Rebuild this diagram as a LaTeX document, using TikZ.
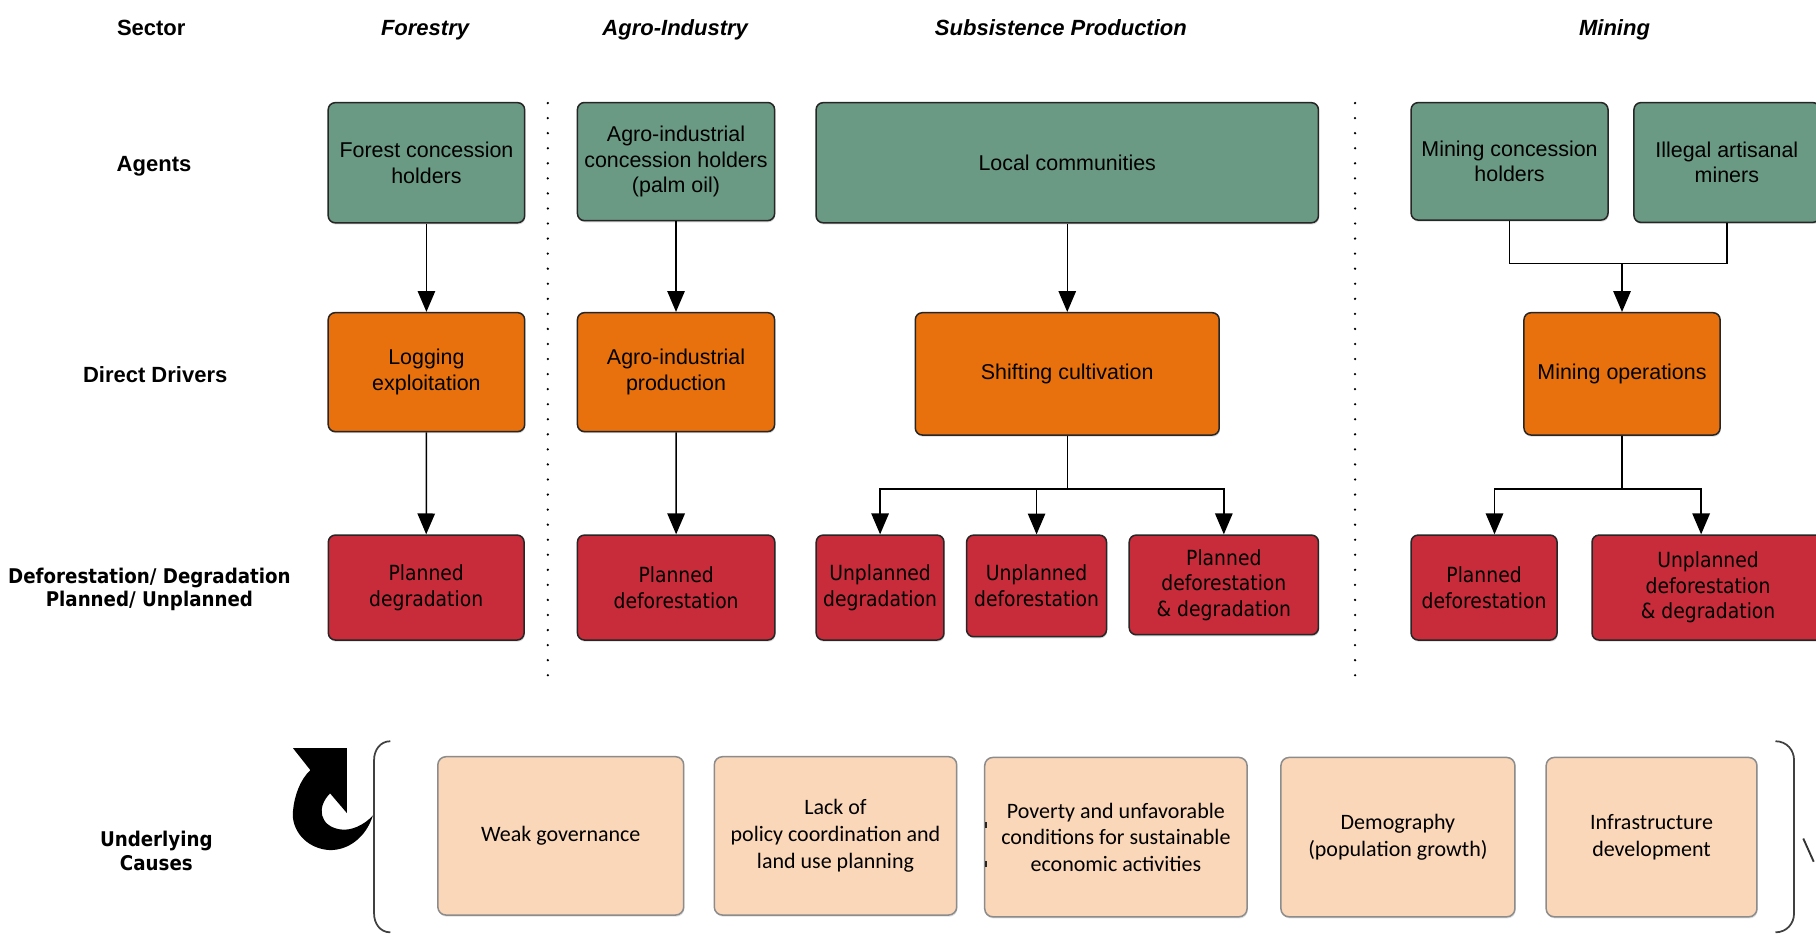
\documentclass[tikz,border=0pt]{standalone}
\usepackage{fontspec}
\setmainfont{Liberation Sans}
\newfontfamily\arialf{Liberation Sans}
\newfontfamily\dejac[FakeStretch=0.9]{DejaVu Sans}
\newfontfamily\calf{Carlito}
\usetikzlibrary{arrows.meta,shadows}
\definecolor{cgreen}{RGB}{106,154,132}
\definecolor{corange}{RGB}{232,113,14}
\definecolor{cred}{RGB}{200,43,58}
\definecolor{cpeach}{RGB}{250,215,185}
\definecolor{cpborder}{RGB}{140,140,140}
\tikzset{
  sz/.style 2 args={minimum width=#1pt, minimum height=#2pt},
  basebox/.style={draw=black!85, line width=1.3pt, rounded corners=6pt, align=center, inner sep=2pt,
    drop shadow={shadow xshift=0.6pt, shadow yshift=-1.4pt, opacity=0.3}},
  gbox/.style={basebox, fill=cgreen, font=\arialf\fontsize{18.5}{22}\selectfont},
  obox/.style={basebox, fill=corange, font=\arialf\fontsize{18.5}{22}\selectfont},
  rbox/.style={basebox, fill=cred, font=\dejac\fontsize{18}{22}\selectfont},
  pbox/.style={draw=cpborder, line width=1.3pt, fill=cpeach, rounded corners=7pt, align=center, inner sep=2pt,
    drop shadow={shadow xshift=0.6pt, shadow yshift=-1.4pt, opacity=0.25},
    font=\calf\fontsize{19}{23}\selectfont},
  hdr/.style={font=\arialf\bfseries\fontsize{19}{22}\selectfont, inner sep=0pt},
  sect/.style={font=\arialf\bfseries\itshape\fontsize{19}{22}\selectfont, inner sep=0pt},
  rowlab/.style={font=\dejac\bfseries\fontsize{17.5}{20.5}\selectfont, align=center, inner sep=0pt},
  arr/.style={line width=1.3pt, -{Triangle[width=15pt,length=18pt]}},
  conn/.style={line width=1.3pt},
  sep/.style={line width=2.2pt, line cap=round, dash pattern=on 0pt off 13pt},
}
\begin{document}
\begin{tikzpicture}[x=1pt,y=-1pt]
\useasboundingbox (0,0) rectangle (1568,807);
\fill[white] (0,0) rectangle (1568,807);

% header row
\node[hdr, anchor=base] (lsector) at (130.6,31) {Sector};
\node[sect, anchor=base] (sfor) at (367,31) {Forestry};
\node[sect, anchor=base] (sagro) at (583,31) {Agro-Industry};
\node[sect, anchor=base] (ssub) at (916,31) {Subsistence Production};
\node[sect, anchor=base] (smin) at (1394,31) {Mining};

% row labels
\node[hdr, anchor=base] (lagents) at (133,148) {Agents};
\node[hdr, anchor=base] (ldrivers) at (134,330) {Direct Drivers};
\node[rowlab] (ldef) at (129,509) {Deforestation/ Degradation\\Planned/ Unplanned};
\node[rowlab] (lund) at (135,735) {Underlying\\Causes};

% separators
\draw[sep] (473,89) -- (473,594);
\draw[sep] (1170,89) -- (1170,594);

% agents
\node[gbox, sz={169.6}{103.7}] (fch) at (368.2,140.5) {Forest concession\\holders};
\node[gbox, sz={170.2}{102}] (aich) at (583.7,139.5) {Agro-industrial\\concession holders\\(palm oil)};
\node[gbox, sz={433.7}{103.7}] (lc) at (921.5,140.5) {Local communities};
\node[gbox, sz={170}{101.4}] (mch) at (1303.4,139.3) {Mining concession\\holders};
\node[gbox, sz={160.4}{103.4}] (iam) at (1491,140.3) {Illegal artisanal\\miners};

% direct drivers
\node[obox, sz={169.6}{102.7}] (le) at (368.2,321.3) {Logging\\exploitation};
\node[obox, sz={170.2}{102.7}] (aip) at (583.7,321.3) {Agro-industrial\\production};
\node[obox, sz={262.4}{105.6}] (sc) at (921.5,322.8) {Shifting cultivation};
\node[obox, sz={169.3}{105.6}] (mo) at (1400.5,322.8) {Mining operations};

% deforestation / degradation
\node[rbox, sz={169}{90.6}] (pdg) at (368,507.3) {Planned\\degradation};
\node[rbox, sz={170.4}{90.6}] (pdf) at (583.8,507.3) {Planned\\deforestation};
\node[rbox, sz={110.3}{90.6}] (udg) at (759.9,507.3) {Unplanned\\degradation};
\node[rbox, sz={120.8}{87.7}] (udf) at (895,505.9) {Unplanned\\deforestation};
\node[rbox, sz={163.4}{86}] (pdd) at (1056.7,505) {Planned\\deforestation\\\& degradation};
\node[rbox, sz={126}{90.6}] (mpd) at (1281.4,507.3) {Planned\\deforestation};
\node[rbox, sz={200.4}{90.6}] (udd) at (1474.8,507.3) {Unplanned\\deforestation\\\& degradation};

% connectors
\draw[arr] (fch.south) -- (le.north);
\draw[arr] (le.south) -- (pdg.north);
\draw[arr] (aich.south) -- (aip.north);
\draw[arr] (aip.south) -- (pdf.north);
\draw[arr] (lc.south) -- (sc.north);
\coordinate (sj) at (921.5,422);
\draw[conn] (sc.south) -- (sj);
\draw[arr] (sj) -| (udg.north);
\draw[arr] (sj) -| (udf.north);
\draw[arr] (sj) -| (pdd.north);
\coordinate (mj) at (1400.5,227.4);
\draw[conn] (mch.south) |- (mj) -| (iam.south);
\draw[arr] (mj) -- (mo.north);
\coordinate (mj2) at (1400.5,422);
\draw[conn] (mo.south) -- (mj2);
\draw[arr] (mj2) -| ([xshift=9pt]mpd.north);
\draw[arr] (mj2) -| ([xshift=-6pt]udd.north);

% underlying causes
\node[pbox, sz={212.3}{136.7}] (wg) at (484.2,721.7) {Weak governance};
\node[pbox, sz={209.3}{136.7}] (lp) at (721.4,721.7) {Lack of\\policy coordination and\\land use planning};
\node[pbox, sz={226.5}{137.6}] (pov) at (963.5,722.8) {Poverty and unfavorable\\conditions for sustainable\\economic activities};
\node[pbox, sz={202}{137.6}] (dem) at (1207,722.8) {Demography\\(population growth)};
\node[pbox, sz={182}{137.6}] (inf) at (1426,722.8) {Infrastructure\\development};
\draw[line width=2pt, black!85] (851.3,710) -- (851.3,715);
\draw[line width=2pt, black!85] (851.3,743.5) -- (851.3,748.5);

% brackets
\draw[line width=1.5pt, black!75] (337,640) .. controls (328,640) and (323,648) .. (323,656) -- (323,789) .. controls (323,797) and (328,805) .. (337,805);
\draw[line width=1.5pt, black!75] (1533,640) .. controls (1543,640) and (1549,648) .. (1549,656) -- (1549,789) .. controls (1549,797) and (1543,805) .. (1533,805);
\draw[line width=1.6pt, black!80] (1557,724) -- (1566,744);

% circular arrow
\fill[black] (253,646) -- (299.5,646) -- (299.5,702) -- (285,685)
  .. controls (273,697) and (276,713) .. (293,716)
  .. controls (303,718) and (315,712) .. (322,704)
  .. controls (316,723) and (301,734) .. (285,734)
  .. controls (264,733) and (251,716) .. (253,700)
  .. controls (254,688) and (259,673) .. (268,665) -- cycle;
\end{tikzpicture}
\end{document}
